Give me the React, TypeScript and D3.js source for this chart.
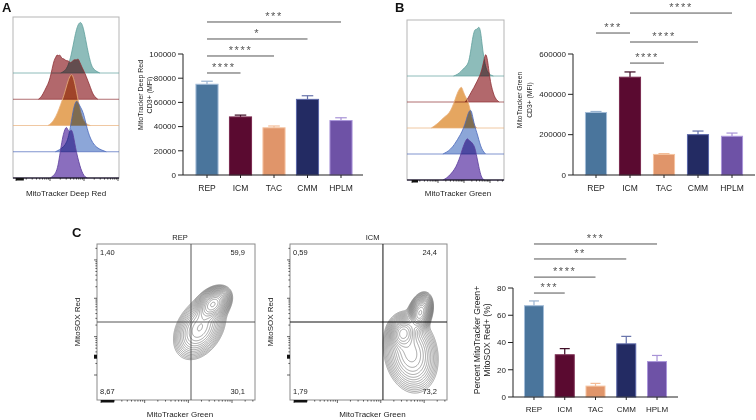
import React from 'react';
import * as d3 from 'd3';

const FONT = '"Liberation Sans", Arial, Helvetica, sans-serif';

// ---------------- bar chart data ----------------
const categories = ['REP', 'ICM', 'TAC', 'CMM', 'HPLM'];
const barFill = ['#4a759c', '#5a0a30', '#e0956a', '#232b63', '#6e52a6'];
const barEdge = ['#a3bcd8', '#7a2a50', '#f5c3a0', '#5a66a8', '#ab96da'];
const errColor = ['#9ab3d0', '#3a0820', '#f3bd98', '#6672aa', '#a893d6'];

const deepRedMFI = [75000, 48000, 39000, 62500, 45000];
const deepRedSEM = [2500, 1500, 1500, 3000, 2300];
const greenMFI = [310000, 485000, 102000, 200000, 192000];
const greenSEM = [5000, 26000, 4000, 18000, 16000];
const pctDouble = [67, 31, 8, 39, 26];
const pctSEM = [3.5, 4.5, 2, 5.5, 4.5];

// significance brackets: [from, to, label, bracket height in data units]
const deepRedSig: [number, number, string, number][] = [
  [0, 1, '****', 84300],
  [0, 2, '****', 98350],
  [0, 3, '*', 112400],
  [0, 4, '***', 126450],
];
const greenSig: [number, number, string, number][] = [
  [1, 2, '****', 555000],
  [1, 3, '****', 659500],
  [0, 1, '***', 704000],
  [1, 4, '****', 803000],
];
const pctSig: [number, number, string, number][] = [
  [0, 1, '***', 76.3],
  [0, 2, '****', 88],
  [0, 3, '**', 101.3],
  [0, 4, '***', 112.3],
];

// ---------------- histogram data (x: 0-100 of axis, h: relative height) ----------------
type Pt = [number, number];
const deepRedHistREP: Pt[] = [[45, 0], [49, 0.04], [52, 0.14], [55, 0.36], [57, 0.58], [59, 0.8], [61, 0.95], [62.5, 1.0], [64, 1.02], [65.5, 0.96], [67, 0.84], [69, 0.62], [71, 0.4], [73, 0.22], [75, 0.1], [78, 0.04], [82, 0]];
const deepRedHistICM: Pt[] = [[24, 0], [27, 0.05], [30, 0.18], [33, 0.3], [35, 0.42], [37, 0.62], [39, 0.8], [40.5, 0.84], [41.5, 0.9], [43, 0.86], [44.5, 0.9], [46, 0.8], [48, 0.82], [50, 0.76], [52, 0.78], [54, 0.72], [56, 0.76], [58, 0.8], [60, 0.78], [61.5, 0.82], [63, 0.74], [65, 0.64], [67, 0.56], [69, 0.46], [71, 0.35], [73, 0.24], [75, 0.12], [77, 0.05], [80, 0]];
const deepRedHistTAC: Pt[] = [[33, 0], [36, 0.04], [39, 0.12], [42, 0.25], [45, 0.42], [48, 0.6], [50, 0.75], [52, 0.9], [54, 1.0], [55.5, 1.03], [57, 0.96], [59, 0.78], [61, 0.55], [63, 0.34], [65, 0.18], [67, 0.08], [70, 0.02], [73, 0]];
const deepRedHistCMM: Pt[] = [[40, 0], [44, 0.04], [48, 0.1], [51, 0.2], [53, 0.36], [55, 0.6], [57, 0.86], [59, 1.0], [60.5, 1.02], [62, 0.96], [64, 0.88], [66, 0.8], [68, 0.64], [70, 0.46], [72, 0.32], [75, 0.18], [79, 0.08], [84, 0.03], [88, 0]];
const deepRedHistHPLM: Pt[] = [[35, 0], [38, 0.04], [41, 0.12], [43, 0.3], [45, 0.58], [47, 0.84], [49, 0.98], [50.5, 1.03], [52, 0.95], [53.5, 0.92], [55, 0.98], [56.5, 0.9], [58, 0.72], [60, 0.5], [62, 0.33], [64, 0.18], [66, 0.08], [68, 0.02], [70, 0]];

const greenHistREP: Pt[] = [[48, 0], [52, 0.03], [56, 0.1], [59, 0.17], [62, 0.22], [64, 0.32], [66, 0.56], [68, 0.84], [70, 0.98], [71.5, 0.96], [73, 1.0], [74.5, 1.03], [76, 0.92], [77.5, 0.64], [79, 0.4], [81, 0.2], [83, 0.08], [86, 0.02], [89, 0]];
const greenHistICM: Pt[] = [[60, 0], [63, 0.08], [66, 0.2], [69, 0.3], [72, 0.42], [75, 0.54], [77, 0.66], [79, 0.84], [80.5, 0.98], [81.5, 1.0], [83, 0.88], [84.5, 0.64], [86, 0.42], [88, 0.25], [90, 0.12], [92, 0.05], [95, 0]];
const greenHistTAC: Pt[] = [[25, 0], [28, 0.04], [32, 0.1], [36, 0.18], [39, 0.24], [42, 0.28], [45, 0.36], [48, 0.5], [51, 0.68], [53, 0.78], [55, 0.84], [56.5, 0.86], [58, 0.76], [60, 0.66], [62, 0.6], [64, 0.48], [66, 0.3], [68, 0.14], [70, 0.04], [72, 0]];
const greenHistCMM: Pt[] = [[37, 0], [41, 0.04], [45, 0.1], [49, 0.2], [52, 0.3], [55, 0.4], [58, 0.52], [61, 0.7], [63, 0.85], [65, 0.92], [66.5, 0.9], [68, 0.75], [70, 0.56], [72, 0.45], [74, 0.3], [76, 0.16], [78, 0.07], [81, 0]];
const greenHistHPLM: Pt[] = [[37, 0], [41, 0.04], [45, 0.12], [49, 0.22], [52, 0.34], [55, 0.5], [57, 0.64], [59, 0.75], [61, 0.84], [62.5, 0.87], [64, 0.82], [66, 0.8], [68, 0.75], [70, 0.68], [72, 0.48], [74, 0.28], [76, 0.1], [78, 0.02], [80, 0]];

const histFill = ['#8dbcba', '#b2686c', '#e5a660', '#8ca6d8', '#8a6ebe'];
const histStroke = ['#5f9f9c', '#8e3035', '#eab07a', '#4a68bb', '#5a3c9c'];

// ---------------- contour data (gaussian components, 0-100 axis units) ----------------
type Blob = { x: number; y: number; sx: number; sy: number; rho: number; w: number };
const repBlobs: Blob[] = [
  { x: 73.5, y: 61.5, sx: 4.4, sy: 4.4, rho: 0.35, w: 1 },
  { x: 65, y: 46, sx: 7, sy: 8.5, rho: 0.35, w: 0.35 },
];
const icmBlobs: Blob[] = [
  { x: 83, y: 56, sx: 3, sy: 4.8, rho: 0.3, w: 1 },
  { x: 72, y: 43, sx: 3.8, sy: 4.6, rho: 0.1, w: 0.6 },
  { x: 77, y: 30, sx: 7.5, sy: 11, rho: -0.15, w: 0.3 },
];
const repQuad = ['1,40', '59,9', '8,67', '30,1'];
const icmQuad = ['0,59', '24,4', '1,79', '73,2'];

// ---------------- helpers ----------------
function logTickValues(lo: number, hi: number) {
  const out: { v: number; major: boolean }[] = [];
  for (let d = Math.floor(Math.log10(lo)); d <= Math.ceil(Math.log10(hi)); d++) {
    for (let k = 1; k <= 9; k++) {
      const v = k * Math.pow(10, d);
      if (v >= lo && v <= hi) out.push({ v, major: k === 1 });
    }
  }
  return out;
}

type BarProps = {
  axisX0: number; axisX1: number; bandRange: [number, number]; pad: number;
  yTop: number; yBottom: number; yMax: number; tickStep: number;
  values: number[]; errs: number[]; sigs: [number, number, string, number][];
  titleLines: string[]; titleX: number; titleY: number; titleSize: number; titleGap: number;
  tickSize: number; catSize: number; catOffset: number;
};

function BarChart(p: BarProps) {
  const x = d3.scaleBand<string>().domain(categories).range(p.bandRange).paddingInner(p.pad).paddingOuter(p.pad / 2);
  const y = d3.scaleLinear().domain([0, p.yMax]).range([p.yBottom, p.yTop]);
  const ticks = d3.range(0, p.yMax + p.tickStep / 2, p.tickStep);
  const bw = x.bandwidth();
  const cx = (i: number) => (x(categories[i]) as number) + bw / 2;
  return (
    <g fontFamily={FONT}>
      {categories.map((c, i) => (
        <g key={c}>
          <line x1={cx(i)} x2={cx(i)} y1={y(p.values[i])} y2={y(p.values[i] + p.errs[i])} stroke={errColor[i]} strokeWidth={1.2} />
          <line x1={cx(i) - bw * 0.25} x2={cx(i) + bw * 0.25} y1={y(p.values[i] + p.errs[i])} y2={y(p.values[i] + p.errs[i])} stroke={errColor[i]} strokeWidth={1.2} />
          <rect x={(x(c) as number) + 0.5} y={y(p.values[i])} width={bw - 1} height={p.yBottom - y(p.values[i])} fill={barFill[i]} stroke={barEdge[i]} strokeWidth={1} />
        </g>
      ))}
      <line x1={p.axisX0} x2={p.axisX0} y1={p.yTop} y2={p.yBottom} stroke="#222" strokeWidth={1} />
      {ticks.map((t) => (
        <g key={t}>
          <line x1={p.axisX0 - 5} x2={p.axisX0} y1={y(t)} y2={y(t)} stroke="#222" strokeWidth={1} />
          <text x={p.axisX0 - 7} y={y(t)} dy="0.35em" textAnchor="end" fontSize={p.tickSize} fill="#222">{d3.format('d')(t)}</text>
        </g>
      ))}
      <line x1={p.axisX0} x2={p.axisX1} y1={p.yBottom} y2={p.yBottom} stroke="#222" strokeWidth={1} />
      {categories.map((c, i) => (
        <g key={c}>
          <line x1={cx(i)} x2={cx(i)} y1={p.yBottom} y2={p.yBottom + 3} stroke="#222" strokeWidth={1} />
          <text x={cx(i)} y={p.yBottom + p.catOffset} textAnchor="middle" fontSize={p.catSize} fill="#222">{c}</text>
        </g>
      ))}
      <text transform={`translate(${p.titleX},${p.titleY}) rotate(-90)`} textAnchor="middle" fontSize={p.titleSize} fill="#222">
        {p.titleLines.map((l, k) => (
          <tspan key={k} x={0} y={k * p.titleGap}>{l}</tspan>
        ))}
      </text>
      {p.sigs.map(([a, b, lab, h], k) => (
        <g key={k}>
          <line x1={cx(a)} x2={cx(b)} y1={y(h)} y2={y(h)} stroke="#555" strokeWidth={1} />
          <text x={(cx(a) + cx(b)) / 2} y={y(h) - 1.8} textAnchor="middle" fontSize={11} fill="#555" letterSpacing={1.6}>{lab}</text>
        </g>
      ))}
    </g>
  );
}

type HistProps = {
  x0: number; x1: number; top: number; bottom: number; rowTop: number;
  rows: Pt[][]; maxH: number; axisDomain: [number, number]; axisRange: [number, number];
  label: string; labelX: number; labelY: number;
};

function Histogram(p: HistProps) {
  const x = d3.scaleLinear().domain([0, 100]).range([p.x0, p.x1]);
  const rowY = d3.scaleLinear().domain([0, p.rows.length - 1]).range([p.rowTop, p.bottom]);
  const ax = d3.scaleLog().domain(p.axisDomain).range(p.axisRange);
  const ticks = logTickValues(p.axisDomain[0], p.axisDomain[1]);
  return (
    <g fontFamily={FONT}>
      <rect x={p.x0} y={p.top} width={p.x1 - p.x0} height={p.bottom - p.top} fill="none" stroke="#b5b5b5" strokeWidth={1} />
      {p.rows.map((r, i) => {
        const b = rowY(i);
        const area = d3.area<Pt>().x((d) => x(d[0])).y0(b).y1((d) => b - d[1] * p.maxH).curve(d3.curveBasis);
        const line = d3.line<Pt>().x((d) => x(d[0])).y((d) => b - d[1] * p.maxH).curve(d3.curveBasis);
        return (
          <g key={i}>
            <path d={area(r) as string} fill={histFill[i]} style={{ mixBlendMode: 'multiply' }} />
            <path d={line(r) as string} fill="none" stroke={histStroke[i]} strokeWidth={0.8} />
            <line x1={p.x0} x2={p.x1} y1={b} y2={b} stroke={histStroke[i]} strokeOpacity={0.7} strokeWidth={1} />
          </g>
        );
      })}
      <line x1={p.x0} x2={p.x1} y1={p.bottom} y2={p.bottom} stroke="#111" strokeWidth={1} />
      {ticks.map((t, k) => (
        <line key={k} x1={ax(t.v)} x2={ax(t.v)} y1={p.bottom} y2={p.bottom + (t.major ? 3 : 1.6)} stroke="#111" strokeWidth={0.7} />
      ))}
      <rect x={ax(p.axisDomain[0])} y={p.bottom} width={ax(p.axisDomain[0] * 1.7) - ax(p.axisDomain[0])} height={2.5} fill="#111" />
      <text x={p.labelX} y={p.labelY} textAnchor="middle" fontSize={8} fill="#222">{p.label}</text>
    </g>
  );
}

type ContourProps = {
  x0: number; x1: number; y0: number; y1: number; blobs: Blob[];
  splitX: number; splitY: number; quad: string[]; title: string; splitColor: string;
};

function ContourPanel(p: ContourProps) {
  const w = Math.round(p.x1 - p.x0);
  const h = Math.round(p.y1 - p.y0);
  const xs = d3.scaleLinear().domain([0, 100]).range([p.x0, p.x1]);
  const ys = d3.scaleLinear().domain([0, 100]).range([p.y1, p.y0]);
  const values = new Array(w * h);
  for (let j = 0; j < h; j++) {
    for (let i = 0; i < w; i++) {
      const dxv = xs.invert(p.x0 + i + 0.5);
      const dyv = ys.invert(p.y0 + j + 0.5);
      let s = 0;
      for (const b of p.blobs) {
        const u = (dxv - b.x) / b.sx;
        const v = (dyv - b.y) / b.sy;
        const q = (u * u - 2 * b.rho * u * v + v * v) / (1 - b.rho * b.rho);
        s += b.w * Math.exp(-0.5 * q);
      }
      values[j * w + i] = s;
    }
  }
  const mx = d3.max(values) as number;
  const n = 19;
  const thresholds = d3.range(n).map((k) => mx * 0.02 * Math.pow(0.95 / 0.02, k / (n - 1)));
  const contours = d3.contours().size([w, h]).thresholds(thresholds)(values);
  const path = d3.geoPath();
  const yAx = d3.scaleLog().domain([100, 2.6e5]).range([p.y1 - 25, p.y0]);
  const xAx = d3.scaleLog().domain([100, 3.36e5]).range([p.x0 + 4, p.x1]);
  const yt = logTickValues(100, 2.6e5);
  const xt = logTickValues(100, 3.36e5);
  const cxm = (p.x0 + p.x1) / 2;
  const cym = (p.y0 + p.y1) / 2;
  return (
    <g fontFamily={FONT}>
      <text x={cxm + 4} y={p.y0 - 4} textAnchor="middle" fontSize={7.5} fill="#222">{p.title}</text>
      <g transform={`translate(${p.x0},${p.y0})`}>
        {contours.map((c, k) => (
          <path key={k} d={path(c as any) as string} fill="none" stroke="#6a6a6a" strokeWidth={0.6} />
        ))}
      </g>
      <rect x={p.x0} y={p.y0} width={p.x1 - p.x0} height={p.y1 - p.y0} fill="none" stroke="#8a8a8a" strokeWidth={1} />
      <line x1={xs(p.splitX)} x2={xs(p.splitX)} y1={p.y0} y2={p.y1} stroke={p.splitColor} strokeWidth={1} />
      <line x1={p.x0} x2={p.x1} y1={ys(p.splitY)} y2={ys(p.splitY)} stroke={p.splitColor} strokeWidth={1} />
      <text x={p.x0 + 3} y={p.y0 + 11} fontSize={7.5} fill="#222">{p.quad[0]}</text>
      <text x={p.x1 - 10} y={p.y0 + 11} fontSize={7.5} fill="#222" textAnchor="end">{p.quad[1]}</text>
      <text x={p.x0 + 3} y={p.y1 - 6} fontSize={7.5} fill="#222">{p.quad[2]}</text>
      <text x={p.x1 - 10} y={p.y1 - 6} fontSize={7.5} fill="#222" textAnchor="end">{p.quad[3]}</text>
      {yt.map((t, k) => (
        <line key={k} x1={p.x0 - (t.major ? 3 : 1.6)} x2={p.x0} y1={yAx(t.v)} y2={yAx(t.v)} stroke="#222" strokeWidth={0.7} />
      ))}
      <rect x={p.x0 - 3} y={yAx(300) - 2} width={3} height={4} fill="#111" />
      {xt.map((t, k) => (
        <line key={k} x1={xAx(t.v)} x2={xAx(t.v)} y1={p.y1} y2={p.y1 + (t.major ? 3 : 1.6)} stroke="#222" strokeWidth={0.7} />
      ))}
      <rect x={xAx(100)} y={p.y1} width={xAx(200) - xAx(100)} height={2.5} fill="#111" />
      <text transform={`translate(${p.x0 - 17},${cym}) rotate(-90)`} textAnchor="middle" fontSize={8} fill="#222">MitoSOX Red</text>
      <text x={cxm + 4} y={p.y1 + 17} textAnchor="middle" fontSize={8} fill="#222">MitoTracker Green</text>
    </g>
  );
}

export default function App() {
  return (
    <svg width={756} height={420} style={{ position: 'absolute', left: 0, top: 0, background: '#fff' }}>
      <rect x={0} y={0} width={756} height={420} fill="#fff" />
      <g fontFamily={FONT} fontWeight="bold" fontSize={13} fill="#111">
        <text x={2} y={12}>A</text>
        <text x={395} y={12}>B</text>
        <text x={72} y={237}>C</text>
      </g>

      <Histogram x0={13} x1={119} top={17} bottom={178} rowTop={73}
        rows={[deepRedHistREP, deepRedHistICM, deepRedHistTAC, deepRedHistCMM, deepRedHistHPLM]}
        maxH={50} axisDomain={[100, 1e5]} axisRange={[16, 118]}
        label="MitoTracker Deep Red" labelX={66} labelY={196} />

      <BarChart axisX0={183} axisX1={363} bandRange={[190.25, 357.75]} pad={0.31}
        yTop={54} yBottom={175} yMax={100000} tickStep={20000}
        values={deepRedMFI} errs={deepRedSEM} sigs={deepRedSig}
        titleLines={['MitoTracker Deep Red', 'CD3+ (MFI)']} titleX={143} titleY={95} titleSize={7} titleGap={9}
        tickSize={8} catSize={8.5} catOffset={15.5} />

      <Histogram x0={407} x1={504} top={20} bottom={180} rowTop={76}
        rows={[greenHistREP, greenHistICM, greenHistTAC, greenHistCMM, greenHistHPLM]}
        maxH={48} axisDomain={[100, 3.45e5]} axisRange={[412, 504]}
        label="MitoTracker Green" labelX={458} labelY={196} />

      <BarChart axisX0={573} axisX1={755} bandRange={[579, 749]} pad={0.35}
        yTop={54} yBottom={175} yMax={600000} tickStep={200000}
        values={greenMFI} errs={greenSEM} sigs={greenSig}
        titleLines={['MitoTracker Green', 'CD3+ (MFI)']} titleX={522} titleY={100} titleSize={6.8} titleGap={10}
        tickSize={8} catSize={8.5} catOffset={15.5} />

      <ContourPanel x0={97} x1={255} y0={244} y1={400} blobs={repBlobs}
        splitX={59.5} splitY={50} quad={repQuad} title="REP" splitColor="#555" />
      <ContourPanel x0={290} x1={447} y0={244} y1={400} blobs={icmBlobs}
        splitX={59.2} splitY={50} quad={icmQuad} title="ICM" splitColor="#111" />

      <BarChart axisX0={513} axisX1={678} bandRange={[518.6, 672.4]} pad={0.35}
        yTop={288} yBottom={397} yMax={80} tickStep={20}
        values={pctDouble} errs={pctSEM} sigs={pctSig}
        titleLines={['Percent MitoTracker Green+', 'MitoSOX Red+ (%)']} titleX={480} titleY={340} titleSize={8.6} titleGap={10}
        tickSize={8} catSize={8} catOffset={15} />
    </svg>
  );
}
